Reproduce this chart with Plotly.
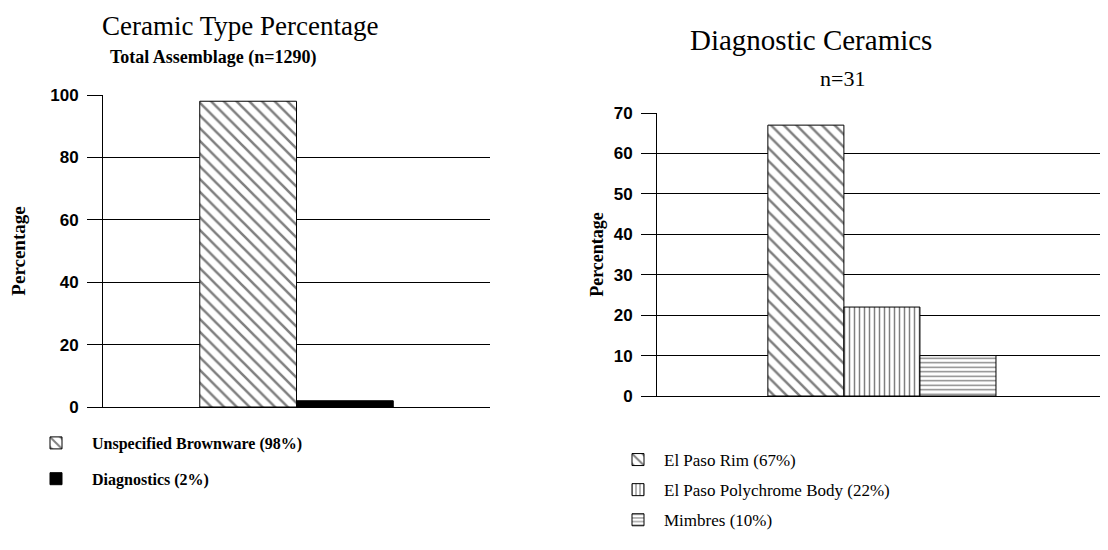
import plotly.graph_objects as go

# The page body has an 8px default margin, so the figure is drawn 8px in from
# the window edge; positions below are given in window pixels and converted.
OFF = 8
W, H = 1108 - 2 * OFF, 550 - 2 * OFF

# ---- data ----
left_names = ["Unspecified Brownware", "Diagnostics"]
left_values = [98, 2]
left_category = ["Total Assemblage"]

right_names = ["El Paso Rim", "El Paso Polychrome Body", "Mimbres"]
right_values = [67, 22, 10]
right_category = ["Diagnostic Ceramics"]

left_ticks = [0, 20, 40, 60, 80, 100]
right_ticks = [0, 10, 20, 30, 40, 50, 60, 70]

SERIF = "Liberation Serif, Times New Roman, serif"
SANS = "Liberation Sans, Arial, sans-serif"


def px_x(x):
    return min(1.0, (x - OFF) / W)


def px_y(y):
    return 1 - (y - OFF) / H


fig = go.Figure()

left_patterns = [
    dict(shape="\\", fgcolor="black", bgcolor="white", size=9, solidity=0.28),
    dict(shape="", fgcolor="black", bgcolor="black"),
]
left_colors = ["white", "black"]
for name, val, pat, col in zip(left_names, left_values, left_patterns, left_colors):
    fig.add_trace(go.Bar(
        x=left_category, y=[val], name=f"{name} ({val}%)",
        marker=dict(color=col, pattern=pat, line=dict(color="black", width=1)),
        xaxis="x", yaxis="y", legend="legend", legendgroup=name,
    ))

right_patterns = [
    dict(shape="\\", fgcolor="black", bgcolor="white", size=9, solidity=0.28),
    dict(shape="|", fgcolor="black", bgcolor="white", size=5, solidity=0.3),
    dict(shape="-", fgcolor="black", bgcolor="white", size=4.5, solidity=0.3),
]
for name, val, pat in zip(right_names, right_values, right_patterns):
    fig.add_trace(go.Bar(
        x=right_category, y=[val], name=f"{name} ({val}%)",
        marker=dict(color="white", pattern=pat, line=dict(color="black", width=1)),
        xaxis="x2", yaxis="y2", legend="legend2", legendgroup=name,
    ))

axis_common_y = dict(
    showgrid=True, gridcolor="black", gridwidth=1,
    showline=True, linecolor="black", linewidth=1,
    ticks="outside", ticklen=15, tickcolor="black", tickwidth=1,
    tickfont=dict(family=SANS, size=17, color="black", weight="bold"),
    ticklabelstandoff=5, zeroline=False, automargin=False,
)
axis_common_x = dict(
    showgrid=False, showline=True, linecolor="black", linewidth=1,
    showticklabels=False, ticks="", zeroline=False, automargin=False,
)


def ann(text, x, y, size, weight="normal"):
    return dict(text=text, x=px_x(x), y=px_y(y), xref="paper", yref="paper",
                xanchor="center", yanchor="middle", showarrow=False,
                font=dict(family=SERIF, size=size, color="black", weight=weight))


fig.update_layout(
    width=W, height=H,
    margin=dict(l=0, r=0, t=0, b=0, autoexpand=False),
    paper_bgcolor="white", plot_bgcolor="white",
    barmode="group", bargap=0.5, bargroupgap=0,
    showlegend=True,
    xaxis=dict(domain=[px_x(103), px_x(490)], anchor="y", **axis_common_x),
    yaxis=dict(domain=[px_y(407), px_y(95)], anchor="x", range=[0, 100],
               tickvals=left_ticks,
               title=dict(text="Percentage", standoff=20,
                          font=dict(family=SERIF, size=19, color="black", weight="bold")),
               **axis_common_y),
    xaxis2=dict(domain=[px_x(657), 1.0], anchor="y2", range=[-0.493, 0.478],
                **axis_common_x),
    yaxis2=dict(domain=[px_y(396), px_y(113)], anchor="x2", range=[0, 70],
                tickvals=right_ticks,
                title=dict(text="Percentage", standoff=5,
                           font=dict(family=SERIF, size=18, color="black", weight="bold")),
                **axis_common_y),
    legend=dict(x=px_x(20), y=px_y(426), xanchor="left", yanchor="top",
                orientation="v", traceorder="grouped", tracegroupgap=12,
                itemwidth=62, bgcolor="rgba(0,0,0,0)",
                font=dict(family=SERIF, size=16, color="black", weight="bold")),
    legend2=dict(x=px_x(612), y=px_y(442), xanchor="left", yanchor="top",
                 orientation="v", traceorder="grouped", tracegroupgap=5,
                 itemwidth=42, bgcolor="rgba(0,0,0,0)",
                 font=dict(family=SERIF, size=17, color="black")),
    annotations=[
        ann("Ceramic Type Percentage", 240, 26, 27),
        ann("Total Assemblage (n=1290)", 213, 57, 18, "bold"),
        ann("Diagnostic Ceramics", 811, 40, 29),
        ann("n=31", 842, 78, 22),
    ],
)

fig.write_html("out.html")
